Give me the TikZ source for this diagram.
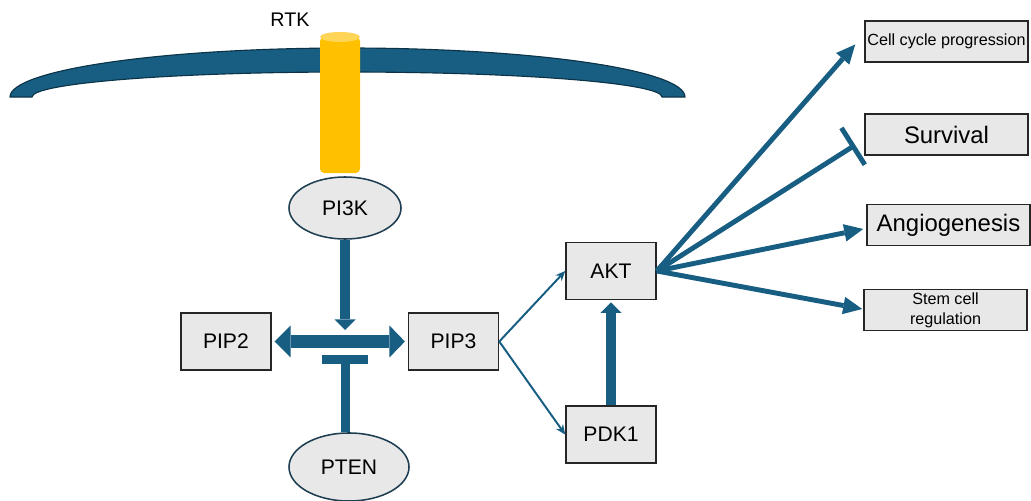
\documentclass[tikz,border=0pt]{standalone}
\usepackage{fontspec}
\setmainfont{Liberation Sans}
\usepackage{tikz}
\usetikzlibrary{shapes.geometric, arrows.meta, positioning, calc}
\definecolor{pathblue}{HTML}{175E82}
\definecolor{memline}{HTML}{0C3347}
\definecolor{boxfill}{HTML}{E8E8E8}
\definecolor{boxline}{HTML}{262626}
\definecolor{ellline}{HTML}{1E3E52}
\definecolor{rtkgold}{HTML}{FFC000}
\definecolor{rtktop}{HTML}{FFD557}
\tikzstyle{block} = [draw=boxline, fill=boxfill, rectangle, line width=1.1pt, minimum width=2.25cm, minimum height=1.425cm, inner sep=0pt, font=\fontsize{15}{18}\selectfont]
\tikzstyle{enzyme} = [draw=ellline, fill=boxfill, ellipse, line width=1.1pt, inner sep=0pt, font=\fontsize{15}{18}\selectfont]
\tikzstyle{outcome} = [draw=boxline, fill=boxfill, rectangle, line width=1.1pt, minimum width=4.075cm, minimum height=1.025cm, inner sep=0pt, align=center]
\tikzstyle{fat} = [draw=pathblue, line width=7.8pt, -{Triangle[width=15pt, length=7.5pt, line width=0pt]}]
\tikzstyle{twoway} = [draw=pathblue, line width=9.9pt, {Triangle[width=22.7pt, length=11.5pt, line width=0pt]}-{Triangle[width=22.7pt, length=11pt, line width=0pt]}]
\tikzstyle{blockbar} = [draw=pathblue, line width=6.4pt, -{Bar[width=33.3pt]}]
\tikzstyle{link} = [draw=pathblue, line width=1.4pt, -{Stealth[width=6pt, length=7pt]}]
\tikzstyle{fan} = [draw=pathblue, line width=3.5pt, -{Triangle[width=12.5pt, length=13.5pt, line width=0pt]}]
\tikzstyle{fanbar} = [draw=pathblue, line width=3.5pt, -{Bar[width=31pt]}]
\begin{document}
\begin{tikzpicture}[x=0.025cm, y=-0.025cm]
    \useasboundingbox (0,0) rectangle (1031,500);
    % Membrane and receptor
    \filldraw [fill=pathblue, draw=memline, line width=0.8pt] (10,97) arc[start angle=180, end angle=360, x radius=337.5, y radius=49] -- (662,97) arc[start angle=0, end angle=-180, x radius=315, y radius=25] -- cycle;
    \fill [rtkgold, rounded corners=3pt] (320,37) -- (320,173) -- (360,173) -- (360,37) -- cycle;
    \fill [rtktop] (340,37) ellipse [x radius=20, y radius=5];
    \node (rtk) at (290,20) [font=\fontsize{14}{17}\selectfont] {RTK};

    % Draw blocks
    \node (pi3k) [enzyme, minimum width=2.8cm, minimum height=1.55cm] at (345,208) {PI3K};
    \node (pip3) [block] at (453.5,341.5) {PIP3};
    \node (pip2) [block, left=3.4cm of pip3] {PIP2};
    \node (pten) [enzyme, minimum width=3cm, minimum height=1.7cm] at (349,467) {PTEN};
    \coordinate (conv) at (345,341.5);
    \node (akt) [block] at (611,271) {AKT};
    \node (pdk1) [block, below=2.625cm of akt] {PDK1};

    % Outcomes
    \node (cycle) [outcome, font=\fontsize{11.5}{14}\selectfont] at (946.5,41.5) {Cell cycle progression};
    \node (survival) [outcome, font=\fontsize{17}{20}\selectfont] at (946.5,134.5) {Survival};
    \node (angio) [outcome, font=\fontsize{17}{20}\selectfont] at (948.5,225) {Angiogenesis};
    \node (stem) [outcome, font=\fontsize{11.5}{14}\selectfont] at (945.5,310) {Stem cell\\regulation};

    % Links
    \draw [fat] (pi3k) -- ($(conv)+(0,-11.5)$);
    \draw [twoway, shorten <=2pt, shorten >=2pt] (pip2) -- (pip3);
    \draw [blockbar] (conv |- pten.north) -- ($(conv)+(0,13.5)$);
    \draw [link] (pip3.east) -- (akt.west);
    \draw [link] (pip3.east) -- (pdk1.west);
    \draw [fat, shorten >=1.5pt] (pdk1) -- (akt);
    \draw [fan] (akt.east) -- ($(cycle.west)+(-9,3)$);
    \draw [fanbar] (akt.east) -- ($(survival.west)+(-9,10.5)$);
    \draw [fan] (akt.east) -- ($(angio.west)+(-3,4)$);
    \draw [fan] (akt.east) -- ($(stem.west)+(-1,-1)$);
\end{tikzpicture}
\end{document}
